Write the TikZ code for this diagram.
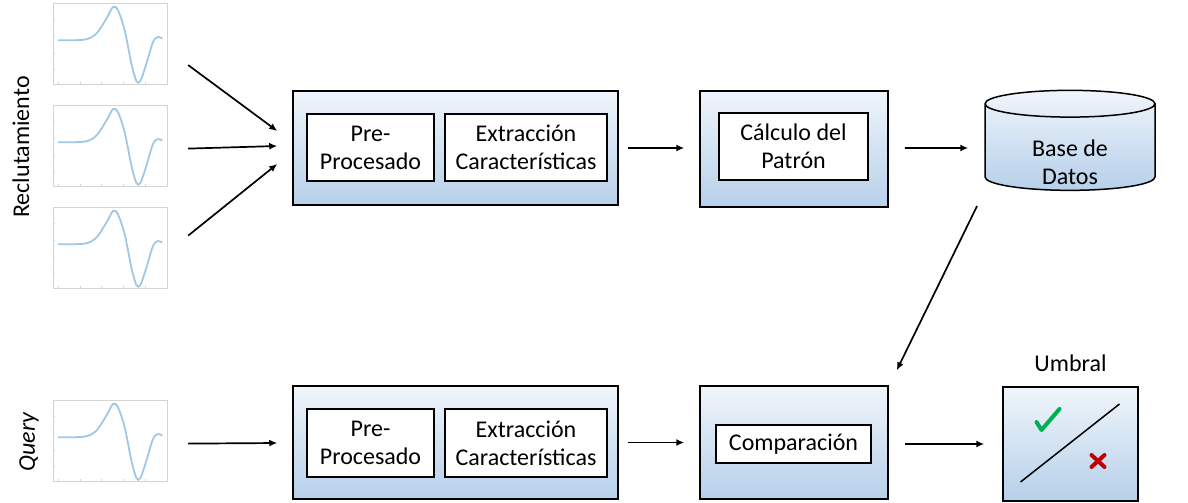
\documentclass[tikz,border=0pt]{standalone}
\usepackage{fontspec}
\setmainfont{Carlito}
\usetikzlibrary{shapes.geometric}
\usetikzlibrary{positioning}
\usetikzlibrary{calc}
\usetikzlibrary{arrows.meta}
\definecolor{boxtop}{RGB}{240,245,251}
\definecolor{boxbot}{RGB}{182,208,234}
\definecolor{wavecol}{RGB}{160,200,230}
\definecolor{framecol}{RGB}{212,212,212}
\definecolor{okgreen}{RGB}{0,176,80}
\definecolor{badred}{RGB}{192,0,0}
\tikzset{every picture/.style={line width=0.75pt},
outerbox/.style={draw,top color=boxtop,bottom color=boxbot},
innerbox/.style={draw,fill=white,align=center},
plotbox/.style={draw=framecol,line width=0.6pt,minimum width=57pt,minimum height=40.5pt,anchor=north west,inner sep=0pt},
arr/.style={line width=0.85pt,-{Latex[length=4pt,width=3.5pt]}}}

\begin{document}
\begin{tikzpicture}[x=0.5pt,y=-0.5pt,font=\fontsize{12}{14}\selectfont]
\useasboundingbox (0,0) rectangle (1188,503);

% senales
\foreach \n/\y in {1/3, 2/105, 3/207, 4/400} {
\node (w\n) at (53,\y) [plotbox] {};
\begin{scope}[shift={(53,\y)}]
\draw[wavecol,line width=0.9pt] plot[smooth] coordinates {(5,37.3) (31.7,36.6) (43.4,30.6) (53.4,15.6) (60,4) (65,7.3) (71.7,27.3) (78.4,60.6) (83.4,78) (87.4,78) (93.4,60.6) (100,39) (105,34) (109.4,35.6)};
\foreach \t in {16, 33, 50, 66} \draw[framecol,line width=0.4pt] (0,\t) -- +(2,0);
\foreach \t in {5, 27, 48, 70, 92} \draw[framecol,line width=0.4pt] (\t,81) -- +(0,-2);
\end{scope}
}

\node (recl) at (21,147) [rotate=90] {Reclutamiento};
\node (query) at (29,442) [rotate=90,font=\fontsize{12}{14}\selectfont\itshape] {Query};

% fila de enrolamiento
\node (enr) at (455.5,148) [outerbox,minimum width=162.5pt,minimum height=57pt] {};
\node (pre1) at (370.5,147.5) [innerbox,minimum width=63.5pt,minimum height=33.5pt] {Pre-\\Procesado};
\node (ext1) at (526,147.5) [innerbox,minimum width=81pt,minimum height=33.5pt] {Extracción\\Características};
\node (pat) at (794,149) [outerbox,minimum width=94pt,minimum height=58pt] {};
\node (patron) at (793.5,146.5) [innerbox,minimum width=74.5pt,minimum height=33.5pt] {Cálculo del\\Patrón};
\node (db) at (1070,150) [cylinder,shape border rotate=90,aspect=0.3,draw,top color=boxtop,bottom color=boxbot,minimum width=85pt,minimum height=50pt,align=center] {\phantom{Base de}\\\phantom{Datos}};
\node (dbtext) at ($(db.center)+(0,12)$) [align=center] {Base de\\Datos};

% fila de consulta
\node (qry) at (455.5,442.5) [outerbox,minimum width=162.5pt,minimum height=56.5pt] {};
\node (pre2) at (370.5,443) [innerbox,minimum width=63.5pt,minimum height=34pt] {Pre-\\Procesado};
\node (ext2) at (526,443) [innerbox,minimum width=81pt,minimum height=34pt] {Extracción\\Características};
\node (cmp) at (794,442.5) [outerbox,minimum width=94pt,minimum height=56.5pt] {};
\node (cmpin) at (793.5,444) [innerbox,minimum width=77.5pt,minimum height=19pt] {Comparación};
\node (umb) at (1070.5,444) [outerbox,minimum width=67.5pt,minimum height=57pt] {};
\node (umblab) at ($(umb.north)+(0,-23)$) {Umbral};

\draw ($(umb.center)+(-50,38)$) -- ($(umb.center)+(49,-40)$);
\draw[okgreen,line width=2pt,line cap=round,line join=round] ($(umb.center)+(-34,-22)$) -- +(5,8) -- +(23,-13);
\draw[badred,line width=2pt,line cap=round] ($(umb.center)+(21,11)$) -- +(13,12);
\draw[badred,line width=2pt,line cap=round] ($(umb.center)+(34,11)$) -- +(-13,12);

% flechas
\draw[arr] ($(w1.east)+(20,21)$) -- ($(enr.west)+(-15,-17)$);
\draw[arr] ($(w2.east)+(20,2.5)$) -- ($(enr.west)+(-15,-2)$);
\draw[arr] ($(w3.east)+(20,-12.5)$) -- ($(enr.west)+(-15,16)$);
\draw[arr] ($(w4.east)+(20,2.5)$) -- ($(qry.west)+(-15,0.5)$);
\draw[arr] ($(enr.east)+(9,0)$) -- ($(pat.west)+(-15,-1)$);
\draw[arr] ($(pat.east)+(16,-1)$) -- ($(db.west)+(-16,-2)$);
\draw[arr] ($(db.south)+(-93,15)$) -- ($(cmp.north east)+(8,-15)$);
\draw[arr] ($(qry.east)+(9,0)$) -- ($(cmp.west)+(-15,0)$);
\draw[arr] ($(cmp.east)+(16,1.5)$) -- ($(umb.west)+(-18,0)$);
\end{tikzpicture}
\end{document}
